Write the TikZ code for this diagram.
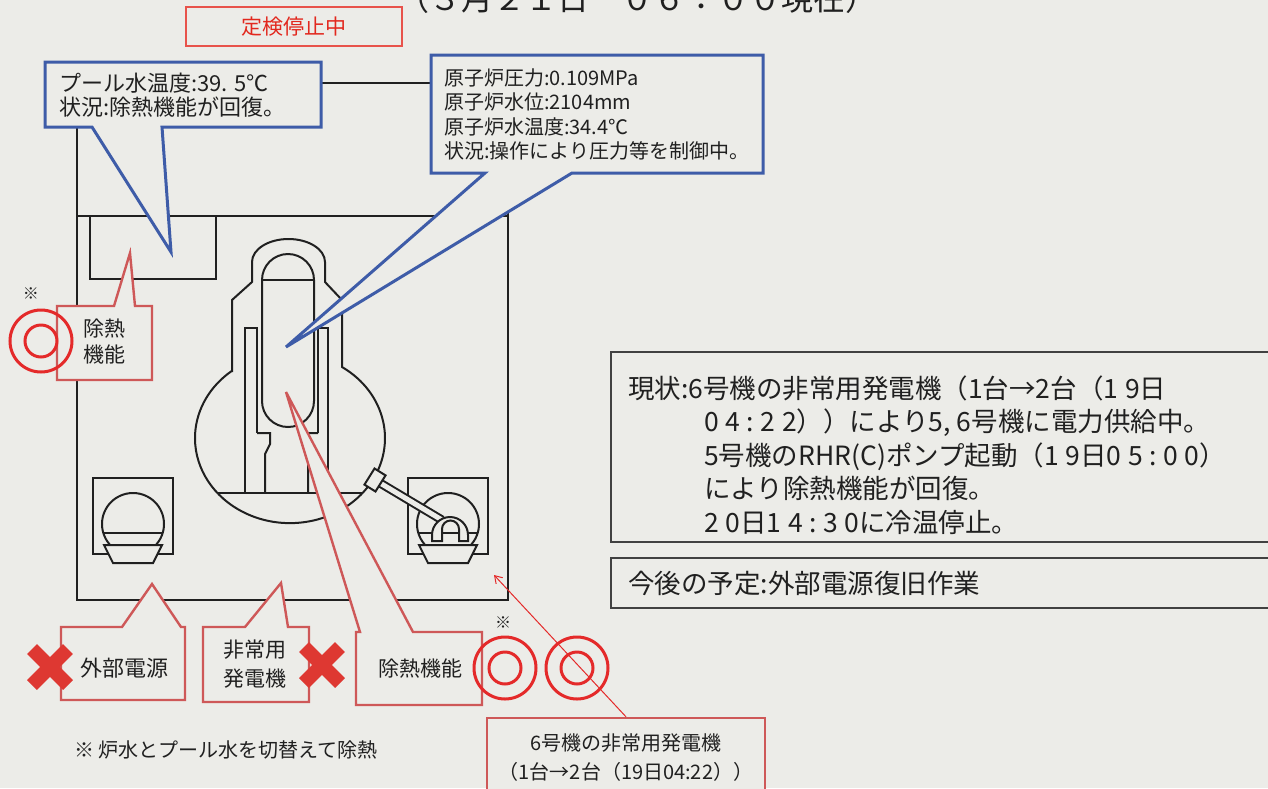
\documentclass[tikz,border=0pt]{standalone}
\usepackage{fontspec}
\setmainfont{Noto Sans CJK JP}
\newfontfamily\spc[LetterSpace=25]{Noto Sans CJK JP}
\usetikzlibrary{arrows.meta}
\definecolor{bgc}{RGB}{236,236,232}
\definecolor{ink}{RGB}{32,32,32}
\definecolor{cblue}{RGB}{62,92,168}
\definecolor{cred}{RGB}{206,88,88}
\definecolor{mred}{RGB}{228,42,42}
\definecolor{xred}{RGB}{222,56,50}
\definecolor{tred}{RGB}{226,40,30}
\newcommand{\fs}[2]{\fontsize{#1}{#2}\selectfont}
\tikzset{
  wall/.style={draw=ink,line width=2.4pt},
  part/.style={draw=ink,line width=2pt},
  bluecall/.style={draw=cblue,line width=3pt,fill=bgc},
  redcall/.style={draw=cred,line width=2.4pt,fill=bgc},
  txt/.style={inner sep=0pt,text=ink},
  ring/.style={draw=mred,line width=3pt},
  xmark/.style={draw=xred,line width=14pt},
  infobox/.style={draw=ink!85,line width=1.6pt},
  pump/.pic={
    \draw[part] (-40,-46) rectangle (40,30);
    \draw[part] (0,0) circle[radius=31];
    \draw[part] (-29.7,9) -- (29.7,9);
    \filldraw[part,fill=bgc] (-29,21) -- (29,21) -- (20,39) -- (-20,39) -- cycle;
  }
}

\begin{document}
\begin{tikzpicture}[x=1pt,y=-1pt]
\useasboundingbox (0,0) rectangle (1268,788);
\clip (0,0) rectangle (1268,788);
\fill[bgc] (0,0) rectangle (1268,788);

\node[txt,anchor=base,font=\fs{32}{36}] (title) at (637,10) {（３月２１日　０６：００現在）};
\node[draw=tred!80,line width=1.2pt,minimum width=216pt,minimum height=39pt,inner sep=0pt,text=tred,font=\fs{21}{25}] (teiken) at (294,26.5) {定検停止中};

\draw[wall] (77,83) rectangle (508,600);
\draw[wall] (77,216) -- (508,216);
\draw[part] (90,216) -- (90,279) -- (216,279) -- (216,216);

\draw[part] (232,371) -- (232,300) -- (252,282) -- (252,262) arc[start angle=180,end angle=360,x radius=36.5,y radius=23] -- (325,282) -- (342,300) -- (342,367) arc[start angle=-56.8,end angle=232.2,x radius=95,y radius=85] -- cycle;
\draw[part] (262,401) -- (262,280) arc[start angle=180,end angle=360,radius=26] -- (314,401) arc[start angle=0,end angle=180,radius=26] -- cycle;
\draw[part] (262,280) -- (314,280);
\draw[part] (257,433) -- (257,328) -- (245,328) -- (245,493);
\draw[part] (318,433) -- (318,328) -- (328,328) -- (328,493);
\draw[part] (257,433) -- (270,433) -- (270,444) -- (265,454) -- (265,493);
\draw[part] (318,433) -- (302,433) -- (302,444) -- (308,454) -- (308,493);
\draw[part] (217.6,493) -- (362.4,493);

\pic at (133,524) {pump};
\pic at (448,524) {pump};
\draw[draw=ink,line width=2pt,double=bgc,double distance=5pt] (375,480) -- (442,520);
\node[part,fill=bgc,minimum width=13pt,minimum height=19pt,inner sep=0pt,rotate=-32] (flange) at (375,480) {};
\filldraw[part,fill=bgc] (432,541) -- (432,535) arc[start angle=180,end angle=360,radius=18] -- (468,541) -- (459,541) -- (459,529) arc[start angle=0,end angle=-180,radius=8.5] -- (442,541) -- cycle;

\filldraw[bluecall] (45,62) -- (321,62) -- (321,127) -- (162,127) -- (171,252) -- (92,127) -- (45,127) -- cycle;
\filldraw[bluecall] (431,55) -- (763,55) -- (763,173) -- (572,173) -- (286,347) -- (485,173) -- (431,173) -- cycle;
\node[txt,anchor=base west,font=\fs{22}{26}] (pool1) at (59,91) {プール水温度:39. 5℃};
\node[txt,anchor=base west,font=\fs{22}{26}] (pool2) at (59,115) {状況:除熱機能が回復。};
\node[txt,anchor=base west,font=\fs{20}{24}] (rpv1) at (444,85) {原子炉圧力:0.109MPa};
\node[txt,anchor=base west,font=\fs{20}{24}] (rpv2) at (444,109.5) {原子炉水位:2104mm};
\node[txt,anchor=base west,font=\fs{20}{24}] (rpv3) at (444,134) {原子炉水温度:34.4℃};
\node[txt,anchor=base west,font=\fs{20}{24}] (rpv4) at (444,158.5) {状況:操作により圧力等を制御中。};

\filldraw[redcall] (57,306) -- (114,306) -- (130,253) -- (135,306) -- (152,306) -- (152,380) -- (57,380) -- cycle;
\filldraw[redcall] (61,627) -- (122,627) -- (152,584) -- (181,627) -- (185,627) -- (185,700) -- (61,700) -- cycle;
\filldraw[redcall] (203,627) -- (245,627) -- (281,583) -- (288,627) -- (309,627) -- (309,702) -- (203,702) -- cycle;
\filldraw[redcall] (356,632) -- (360,632) -- (286,392) -- (413,632) -- (482,632) -- (482,705) -- (356,705) -- cycle;
\node[txt,font=\fs{21}{25}] (heat1) at (104,329) {除熱};
\node[txt,font=\fs{21}{25}] (heat2) at (104,355) {機能};
\node[txt,font=\fs{22}{25}] (offsite) at (124,668) {外部電源};
\node[txt,font=\fs{21}{25}] (edg1) at (255,650) {非常用};
\node[txt,font=\fs{21}{25}] (edg2) at (255,679) {発電機};
\node[txt,font=\fs{21}{25}] (heat3) at (420,669) {除熱機能};

\draw[ring] (41,341) circle[radius=31] (41,341) circle[radius=16];
\draw[ring] (505,668) circle[radius=31] (505,668) circle[radius=16];
\draw[ring] (577,668) circle[radius=31] (577,668) circle[radius=16];
\node[txt,font=\fs{16}{16}] (mark1) at (31,294) {※};
\node[txt,font=\fs{16}{16}] (mark2) at (503,623) {※};
\draw[xmark] (50,667) ++(-18,-18) -- ++(36,36) ++(0,-36) -- ++(-36,36);
\draw[xmark] (322,665) ++(-18,-18) -- ++(36,36) ++(0,-36) -- ++(-36,36);
\node[txt,anchor=west,font=\fs{20}{24}] (foot) at (74,750) {※\ 炉水とプール水を切替えて除熱};

\node[redcall,minimum width=278pt,minimum height=79pt,inner sep=0pt,align=center,text=ink,font=\fs{20}{29}] (gen6) at (626,757.5) {6号機の非常用発電機\\（1台→2台（19日04:22））};
\coordinate (bcorner) at (494,575);
\draw[draw=mred,line width=1pt,-{Straight Barb[length=7pt,width=9pt]}] (gen6.north) -- (bcorner);

\draw[infobox] (611,352) rectangle (1280,542);
\draw[infobox] (611,558) rectangle (1280,608);
\node[txt,anchor=base west,font=\fs{26.5}{30}] (now1) at (628,398) {現状:6号機の非常用発電機（{\spc 1}台→{\spc 2}台（{\spc 19}日};
\node[txt,anchor=base west,font=\fs{26.5}{30}] (now2) at (704,431.5) {{\spc 04:22}））により5, 6号機に電力供給中。};
\node[txt,anchor=base west,font=\fs{26.5}{30}] (now3) at (704,465) {5号機のRHR(C)ポンプ起動（{\spc 19}日{\spc 05:00}）};
\node[txt,anchor=base west,font=\fs{26.5}{30}] (now4) at (704,498.5) {により除熱機能が回復。};
\node[txt,anchor=base west,font=\fs{26.5}{30}] (now5) at (704,532) {{\spc 20}日{\spc 14:30}に冷温停止。};
\node[txt,anchor=base west,font=\fs{26.5}{30}] (plan) at (628,593) {今後の予定:外部電源復旧作業};
\end{tikzpicture}
\end{document}
